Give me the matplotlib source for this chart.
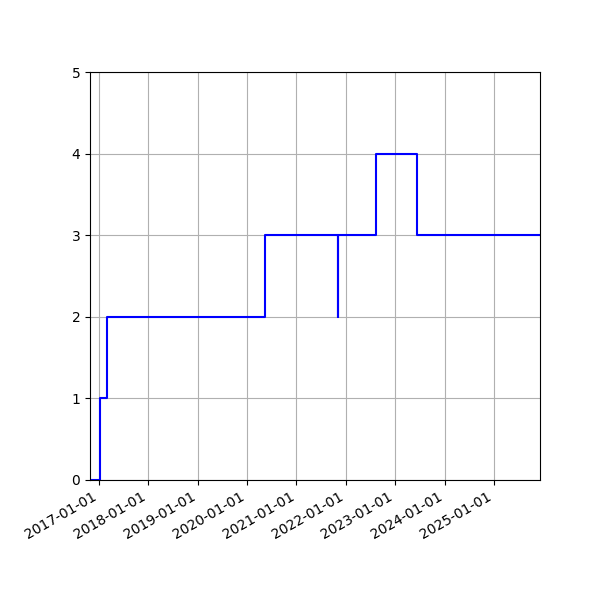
import matplotlib
matplotlib.use("Agg")
import matplotlib.pyplot as plt
import matplotlib.dates as mdates
import pandas as pd

dates = ["2016-10-27", "2017-01-08", "2017-02-27", "2020-05-13",
         "2021-11-04", "2021-11-05", "2022-08-12", "2023-06-11", "2025-12-07"]
values = [0, 1, 2, 3, 2, 3, 4, 3, 3]

x = pd.to_datetime(dates)

fig, ax = plt.subplots(figsize=(6, 6), dpi=100)
ax.step(x, values, where="post", color="blue", linewidth=1.5)
ax.set_xlim(x[0], x[-1])
ax.set_ylim(0, 5)
ax.xaxis.set_major_locator(mdates.YearLocator())
ax.xaxis.set_major_formatter(mdates.DateFormatter("%Y-%m-%d"))
ax.grid(True)
fig.autofmt_xdate()
fig.subplots_adjust(left=0.15, right=0.9, top=0.88, bottom=0.2)
fig.savefig("out.png", dpi=100)
